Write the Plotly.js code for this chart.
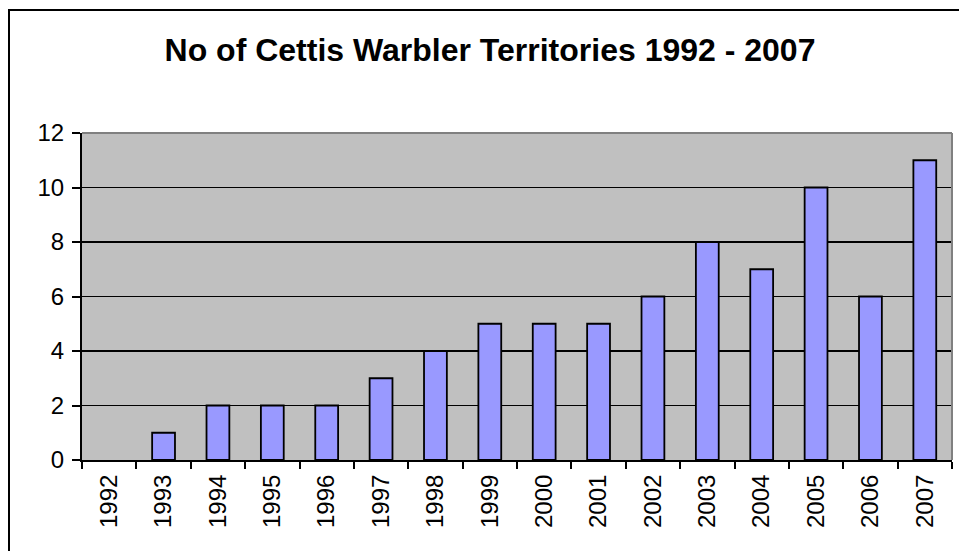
<!DOCTYPE html>
<html>
<head>
<meta charset="utf-8">
<script src="https://cdn.plot.ly/plotly-3.0.1.min.js"></script>
<style>
html,body{margin:0;padding:0;background:#fff;}
#chart{width:959px;height:551px;}
</style>
</head>
<body>
<div id="chart"></div>
<script>
const years = ["1992","1993","1994","1995","1996","1997","1998","1999","2000","2001","2002","2003","2004","2005","2006","2007"];
const territories = [0,1,2,2,2,3,4,5,5,5,6,8,7,10,6,11];
const yTicks = [0,2,4,6,8,10,12];
const chartTitle = "No of Cettis Warbler Territories 1992 - 2007";

const W = 959, H = 551;
const m = {l:82, r:7, t:133, b:91};
const pw = W - m.l - m.r, ph = H - m.t - m.b;
const px = v => (v - m.l) / pw;
const py = v => (H - m.b - v) / ph;

const fontFam = '"Liberation Sans", Arial, sans-serif';

const data = [{
  type: 'bar',
  x: years,
  y: territories,
  marker: {color: '#9999ff', line: {color: '#000000', width: territories.map(v => v === 0 ? 0 : 1.8)}},
  hoverinfo: 'x+y'
}];

const layout = {
  width: W, height: H,
  margin: m,
  paper_bgcolor: '#ffffff',
  plot_bgcolor: '#c0c0c0',
  bargap: 0.58,
  showlegend: false,
  font: {family: fontFam, color: '#000000', size: 24},
  title: {
    text: '<b>' + chartTitle + '</b>',
    font: {family: fontFam, size: 32, color: '#000000'},
    xref: 'container', yref: 'container',
    x: 490 / W, xanchor: 'center',
    y: 1 - 50 / H, yanchor: 'middle'
  },
  xaxis: {
    type: 'category',
    tickson: 'boundaries',
    ticks: 'outside', ticklen: 7, tickwidth: 2, tickcolor: '#000000',
    tickangle: -90,
    ticklabelstandoff: 3,
    tickfont: {family: fontFam, size: 24, color: '#000000'},
    showline: true, linecolor: '#000000', linewidth: 2,
    showgrid: false, zeroline: false
  },
  yaxis: {
    range: [0, 12],
    tickvals: yTicks,
    ticks: 'outside', ticklen: 8, tickwidth: 2, tickcolor: '#000000',
    ticklabelstandoff: 3,
    tickfont: {family: fontFam, size: 24, color: '#000000'},
    showline: true, linecolor: '#000000', linewidth: 2,
    showgrid: true, gridcolor: '#000000', gridwidth: 1.5,
    zeroline: false
  },
  shapes: [
    {type: 'line', xref: 'paper', yref: 'paper', x0: 0, x1: 1, y0: 1, y1: 1,
     line: {color: '#808080', width: 2}, layer: 'above'},
    {type: 'line', xref: 'paper', yref: 'paper', x0: 1, x1: 1, y0: 0, y1: 1,
     line: {color: '#808080', width: 2}, layer: 'above'},
    {type: 'rect', xref: 'paper', yref: 'paper',
     x0: px(9), x1: px(W + 20), y0: py(H + 20), y1: py(10),
     line: {color: '#000000', width: 2}, fillcolor: 'rgba(0,0,0,0)', layer: 'above'}
  ]
};

Plotly.newPlot('chart', data, layout, {displayModeBar: false, staticPlot: true});
</script>
</body>
</html>
